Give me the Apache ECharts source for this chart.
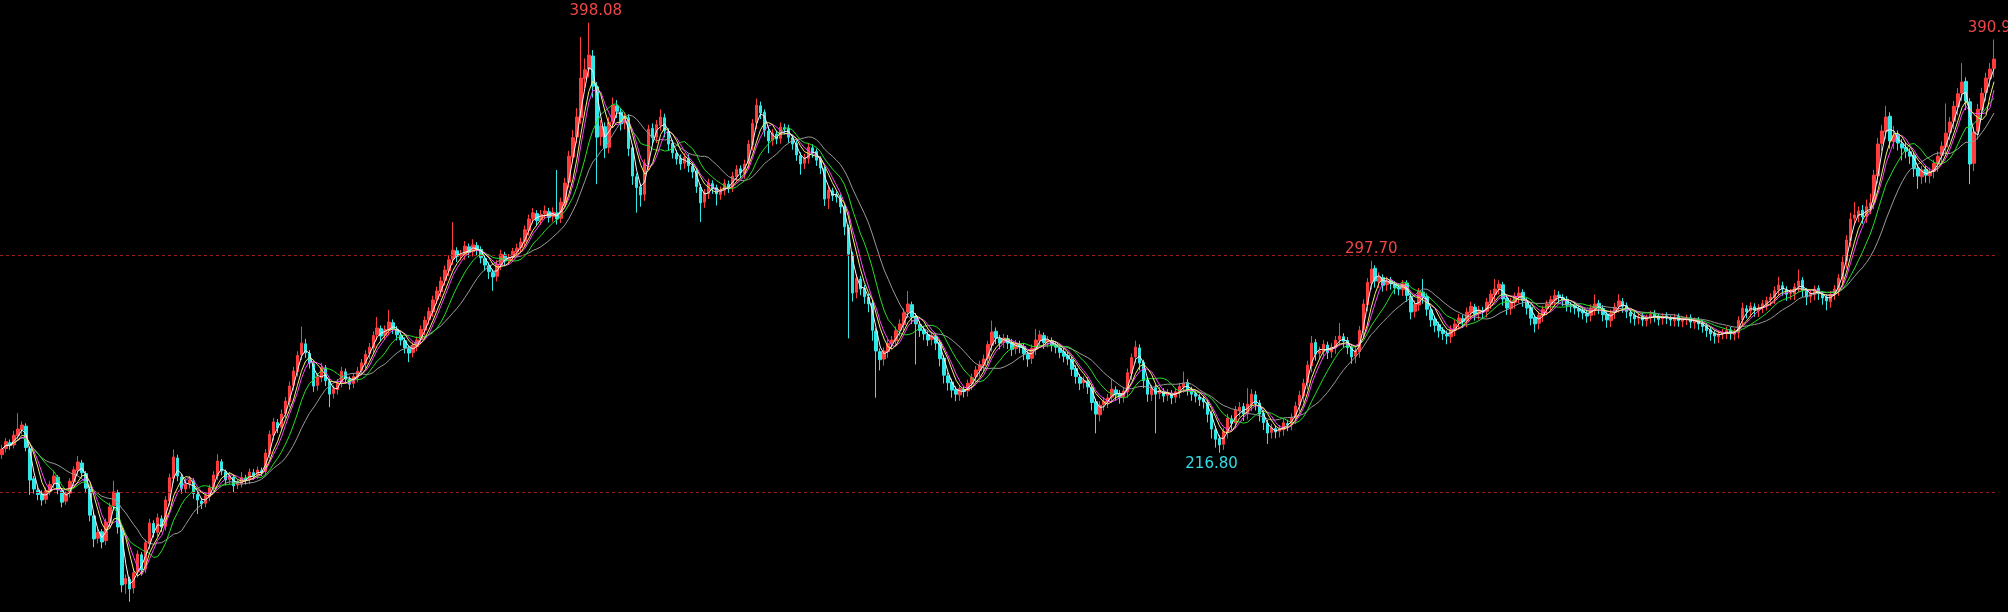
<!DOCTYPE html>
<html><head><meta charset="utf-8">
<script src="https://cdn.jsdelivr.net/npm/echarts/dist/echarts.min.js"></script>
<style>html,body{margin:0;padding:0;background:#000;overflow:hidden}#c{width:2008px;height:612px}</style>
</head><body><div id="c"></div><script>
const opens=[216.0,218.6,221.0,220.1,224.0,226.5,228.0,218.5,205.8,201.0,
199.5,197.2,200.6,203.8,206.5,200.8,196.4,199.8,204.5,209.2,
212.5,208.0,201.5,190.2,180.8,183.5,179.8,187.3,194.5,200.0,
185.0,161.5,163.5,159.8,166.5,173.8,167.8,178.5,187.0,183.3,
189.0,185.8,196.5,206.0,214.6,206.6,201.5,203.8,205.0,199.2,
196.5,195.5,198.3,202.3,207.1,213.0,208.8,205.5,206.5,203.2,
203.9,206.1,205.4,208.4,207.5,209.2,208.9,216.4,224.2,229.5,
227.6,233.4,238.3,245.2,251.0,258.1,262.7,258.6,254.3,245.2,
248.4,252.6,246.8,241.8,243.5,246.4,250.9,247.7,246.0,248.6,
251.5,254.4,258.6,261.0,266.5,269.1,266.3,268.4,271.6,268.8,
266.2,264.0,260.7,259.1,261.6,264.6,268.5,273.0,276.1,281.5,
284.7,289.5,293.5,298.4,301.9,299.9,300.2,303.6,301.6,304.1,
302.5,298.7,295.6,292.8,291.2,296.0,300.2,297.9,299.2,301.4,
303.3,305.9,310.5,315.6,317.6,314.9,317.5,318.4,316.3,317.9,
315.6,322.1,330.8,341.5,349.9,358.0,374.4,378.5,384.0,371.0,
350.1,354.2,345.5,356.4,363.0,360.4,355.7,358.0,345.3,333.1,
328.9,325.7,338.4,353.5,349.8,354.8,358.0,352.1,347.2,342.9,
340.9,338.8,341.0,337.5,335.4,328.7,322.4,326.1,330.2,328.5,
325.6,327.4,330.0,328.9,333.1,336.5,334.5,338.8,346.6,355.9,
363.0,360.3,352.4,348.5,351.1,349.3,353.8,353.5,349.5,347.2,
342.0,338.8,340.9,345.3,343.8,340.4,336.5,324.0,327.2,325.5,
324.3,320.7,311.7,300.2,284.4,290.0,286.1,282.3,279.8,268.1,
259.4,256.3,259.4,263.1,264.0,268.5,270.8,276.1,279.2,274.3,
270.8,268.6,266.6,264.6,265.8,263.3,256.7,249.2,246.6,243.5,
241.2,243.5,242.9,245.8,248.8,251.4,253.6,256.6,262.1,268.0,
264.9,263.3,264.8,263.3,260.7,262.4,261.6,258.2,256.6,260.5,
264.0,266.2,263.5,264.0,262.3,261.0,259.4,257.8,256.0,252.3,
248.6,246.4,247.0,244.2,238.3,232.8,237.1,238.2,240.2,243.3,
241.8,240.5,242.5,250.2,257.2,261.0,254.9,247.5,241.2,244.2,
241.8,242.7,241.0,241.9,240.2,242.2,244.5,246.4,243.2,241.8,
240.3,239.4,238.0,233.3,226.5,222.8,220.4,225.4,231.1,229.5,
234.5,236.3,233.4,237.0,241.2,237.7,233.4,229.2,225.4,227.0,
225.9,226.5,229.1,228.8,231.5,236.8,240.7,246.4,253.5,263.3,
258.7,259.4,262.2,259.3,261.0,264.5,265.7,264.1,261.4,257.5,
259.4,268.7,279.2,288.3,294.5,288.9,290.7,287.7,289.5,287.7,
286.6,285.5,288.3,282.8,276.4,279.1,284.5,282.7,277.0,273.1,
270.8,268.5,266.7,265.7,268.6,271.4,273.3,272.3,275.8,278.2,
275.5,276.7,276.4,280.0,283.4,286.1,287.6,281.9,277.5,280.2,
282.4,284.4,280.7,278.1,273.8,271.4,274.5,277.5,279.2,281.0,
283.3,282.1,281.5,278.7,278.9,277.5,276.8,275.4,274.7,277.3,
279.8,277.6,275.3,272.5,275.9,278.5,280.5,278.8,276.0,274.7,
273.5,274.3,272.5,273.8,275.4,274.1,273.3,274.5,273.3,272.5,
274.2,272.2,273.1,273.7,271.6,272.6,271.4,270.3,268.6,267.2,
265.7,267.1,267.2,268.6,266.7,267.4,272.9,277.5,276.5,278.3,
276.6,278.1,279.3,281.3,282.1,285.4,287.2,285.5,283.9,283.8,
287.0,289.5,285.0,282.7,283.7,286.1,283.6,282.3,280.5,283.8,
285.5,290.1,297.5,306.2,315.6,316.7,319.0,316.5,320.2,322.4,
333.5,347.2,352.1,358.6,347.9,350.9,347.0,345.5,343.6,342.1,
336.8,333.1,336.3,333.5,335.4,338.4,342.1,345.7,351.8,356.5,
362.5,368.4,373.3,364.7,338.8,352.3,361.3,368.6,374.4,378.8];

const closes=[218.4,221.5,219.8,224.2,226.8,228.5,219.0,205.3,201.5,199.2,
196.9,200.8,203.4,207.0,201.2,196.0,199.5,204.8,209.6,212.9,
208.4,201.9,190.5,180.5,183.2,179.2,187.6,194.0,200.3,185.5,
161.1,163.8,159.4,166.2,174.1,167.4,178.9,187.2,183.0,189.4,
185.5,196.9,206.3,215.0,207.0,201.8,203.5,205.3,199.6,196.9,
195.2,198.7,202.0,207.4,213.3,209.1,205.3,206.8,202.9,203.6,
206.4,205.1,208.7,207.2,209.5,208.7,216.7,224.5,229.8,227.3,
233.1,238.6,244.9,251.3,257.8,263.0,258.9,254.6,244.9,248.7,
252.9,247.1,241.5,243.8,246.1,251.2,248.0,245.7,248.9,251.2,
254.7,258.3,261.3,266.2,269.4,266.0,268.7,271.9,269.1,266.5,
264.3,261.0,258.8,261.9,264.3,268.8,272.7,276.4,281.2,285.0,
289.2,293.8,298.1,302.2,299.6,300.5,303.9,301.3,304.4,302.2,
299.0,295.9,293.1,290.9,296.3,300.5,297.6,298.9,301.7,303.0,
305.6,310.8,315.3,317.9,314.6,317.2,318.7,316.0,318.2,315.3,
322.4,330.5,341.8,349.6,358.3,374.7,378.2,384.4,371.3,349.8,
354.5,345.2,356.1,363.3,360.7,355.4,358.3,345.0,333.4,328.6,
325.4,338.7,353.2,349.5,355.1,358.3,352.4,346.9,343.2,340.6,
338.5,341.3,337.8,335.1,329.0,322.1,326.4,330.5,328.2,325.9,
327.1,330.3,328.6,333.4,336.2,334.8,338.5,346.9,355.6,363.3,
360.0,352.7,348.2,351.4,349.0,354.1,353.2,349.8,346.9,342.3,
338.5,341.2,345.6,343.5,340.1,336.8,323.7,327.5,325.2,324.6,
320.4,312.0,300.5,284.1,290.3,285.8,282.6,279.5,268.4,259.7,
256.0,259.7,262.8,264.3,268.2,271.1,275.8,279.5,274.0,271.1,
268.3,266.9,264.3,266.1,263.0,256.4,249.5,246.3,243.2,241.5,
243.8,242.6,246.1,248.5,251.7,253.9,256.3,262.4,267.7,265.2,
263.0,265.1,263.0,260.4,262.7,261.3,258.5,256.3,260.8,264.3,
266.5,263.2,264.3,262.0,261.3,259.1,257.5,256.3,252.0,248.9,
246.1,247.3,244.5,238.0,233.1,236.8,238.5,239.9,243.6,241.5,
240.2,242.8,250.5,256.9,261.3,254.6,247.2,241.5,243.9,241.5,
243.0,240.7,242.2,239.9,242.5,244.8,246.1,243.5,241.5,240.6,
239.1,238.2,233.0,226.8,222.5,220.1,225.7,231.4,229.2,234.8,
236.0,233.1,237.3,241.5,237.4,233.1,229.5,225.1,227.3,225.6,
226.8,229.4,228.5,231.8,236.5,241.0,246.1,253.8,263.0,258.4,
259.7,262.5,259.0,261.3,264.2,266.0,263.8,261.1,257.2,259.7,
268.4,279.5,288.6,294.2,289.2,291.0,287.4,289.2,288.0,286.3,
285.8,288.0,283.1,276.1,279.4,284.8,282.4,277.3,272.8,270.5,
268.2,267.0,266.0,268.9,271.1,273.6,272.0,276.1,278.5,275.2,
277.0,276.1,280.3,283.7,285.8,287.9,281.6,277.8,280.5,282.7,
284.1,281.0,277.8,273.5,271.1,274.8,277.2,279.5,281.3,283.0,
282.4,281.2,279.0,278.6,277.8,276.5,275.7,274.4,277.6,279.5,
277.9,275.0,272.8,275.6,278.2,280.8,278.5,276.3,274.4,273.2,
274.0,272.8,273.5,275.1,274.4,273.0,274.2,273.6,272.8,273.9,
272.5,272.8,273.4,271.9,272.3,271.1,270.0,268.3,266.9,266.0,
266.8,267.5,268.3,267.0,267.7,272.6,277.8,276.2,278.6,276.9,
277.8,279.6,281.0,282.4,285.1,287.5,285.8,283.6,284.1,286.7,
289.2,285.3,282.4,284.0,285.8,283.9,282.0,280.8,283.5,285.8,
290.4,297.2,306.5,315.3,317.0,318.7,316.2,320.5,322.1,333.8,
346.9,352.4,358.3,348.2,350.6,347.3,345.2,343.9,341.8,336.5,
333.4,336.0,333.8,335.1,338.7,341.8,346.0,351.5,356.2,362.8,
368.1,373.0,365.0,338.5,352.0,361.6,368.3,374.7,378.5,382.7];

const highs=[220.1,223.0,222.4,226.0,233.5,230.0,229.2,219.4,207.0,202.3,
201.0,202.2,205.0,209.3,207.4,201.9,200.6,206.1,211.0,215.5,
213.8,209.1,202.8,191.4,185.0,184.6,189.1,195.8,205.0,201.2,
186.0,165.5,164.6,167.8,175.6,174.9,180.3,189.0,188.3,191.2,
190.4,198.5,208.0,218.2,216.0,208.1,206.2,207.0,206.1,200.5,
197.8,200.1,203.4,209.0,216.2,214.1,209.7,208.5,207.6,205.5,
208.7,207.5,210.2,209.9,211.0,210.6,218.4,226.2,231.5,231.0,
235.0,240.3,246.8,253.0,259.6,270.0,264.8,260.1,255.6,250.4,
254.7,253.8,248.0,245.2,247.9,253.0,252.3,249.0,250.4,252.9,
256.3,260.0,263.1,268.0,274.0,270.4,270.5,277.0,273.0,270.2,
267.6,265.4,262.0,263.3,265.8,270.4,274.3,278.1,283.0,286.8,
291.0,295.7,300.0,314.0,303.4,302.3,306.0,305.0,306.8,305.6,
303.8,300.0,297.0,294.1,298.0,302.4,301.5,300.6,303.1,304.9,
307.4,312.6,317.2,320.0,319.0,319.1,321.0,320.0,320.2,336.0,
324.3,332.6,344.0,352.8,362.0,392.0,383.0,398.08,386.5,373.0,
357.0,356.0,358.2,366.5,365.4,362.0,360.4,359.5,346.6,334.5,
330.2,340.5,355.0,355.6,357.0,361.5,359.7,353.5,348.6,344.4,
342.5,343.0,342.6,339.0,336.7,330.0,328.0,332.3,331.6,329.8,
329.0,332.0,331.5,335.1,338.0,337.9,340.3,348.6,357.4,366.0,
364.8,361.5,354.0,353.2,352.6,356.0,355.5,355.0,350.8,348.5,
343.4,342.8,347.3,346.8,345.0,341.7,337.5,329.2,328.5,327.0,
325.6,321.8,312.9,301.5,292.0,291.4,287.5,283.8,281.0,269.4,
260.8,261.2,264.5,266.0,270.0,273.0,277.6,285.0,280.5,275.7,
272.3,270.2,268.0,267.6,267.2,264.5,258.0,250.6,248.0,244.8,
245.3,244.9,247.6,250.1,253.4,255.6,258.2,264.0,272.5,269.6,
266.5,266.9,266.4,264.8,264.3,264.0,263.0,259.8,262.4,269.0,
268.4,267.5,266.0,265.4,263.8,262.5,260.9,259.2,257.4,253.7,
250.0,249.0,248.6,245.5,239.6,238.5,240.2,241.6,248.0,244.8,
243.2,244.3,252.3,258.6,264.0,262.5,256.0,248.8,245.4,245.6,
244.6,244.0,243.7,243.2,244.0,246.3,251.0,247.8,244.6,243.1,
241.7,240.8,239.3,234.6,228.0,224.2,227.3,233.2,232.6,236.5,
238.2,237.8,244.0,243.6,242.8,239.0,234.8,230.6,229.0,228.4,
228.5,231.0,230.7,233.4,238.3,242.9,248.0,255.6,266.0,264.7,
261.5,264.3,263.6,263.0,266.0,271.5,267.2,265.5,262.7,261.3,
270.2,281.5,290.4,297.70,295.8,292.8,292.0,291.0,290.9,289.2,
288.0,289.6,289.5,284.0,281.0,286.3,290.0,284.0,278.3,274.4,
272.0,269.8,268.3,270.5,272.8,275.3,274.9,278.0,280.4,279.6,
278.7,278.3,282.0,285.4,290.0,289.5,288.8,283.2,282.1,284.3,
286.8,285.7,282.0,279.3,275.0,276.3,278.8,281.0,283.0,285.5,
284.9,283.6,282.8,280.3,280.4,279.1,278.2,277.0,279.3,283.5,
281.2,279.0,276.7,277.1,279.9,283.6,282.0,280.1,277.5,276.2,
275.7,275.8,275.0,276.6,276.9,275.5,275.6,276.0,274.7,275.3,
275.5,274.3,275.0,275.1,273.8,274.0,272.8,271.6,269.9,268.5,
268.3,269.0,270.0,269.8,269.2,274.3,280.0,279.0,280.2,279.8,
279.4,281.2,282.6,284.0,286.9,291.0,288.9,287.0,285.8,288.3,
294.0,290.8,286.3,285.6,287.3,287.4,285.0,283.6,285.0,287.5,
292.1,299.5,308.5,318.0,322.5,320.6,321.2,323.5,326.0,336.0,
349.5,355.0,363.0,360.3,354.5,352.6,349.0,347.3,345.2,343.5,
338.2,337.6,337.9,337.0,340.3,343.8,348.0,364.0,358.3,365.0,
370.5,381.0,375.0,366.2,354.2,363.8,370.6,377.0,381.0,390.96];

const lows=[214.2,217.0,218.1,218.6,222.3,224.6,217.4,199.0,199.6,196.8,
194.5,195.3,198.9,201.9,199.3,193.8,194.9,198.0,202.6,207.2,
206.3,199.8,187.9,177.0,178.6,176.5,177.9,185.2,192.3,182.7,
158.0,157.3,154.0,157.5,164.2,165.0,166.1,176.2,181.1,181.5,
183.4,184.0,194.6,204.1,204.8,199.5,199.9,201.7,197.4,191.0,
193.1,193.8,196.4,200.5,205.2,207.3,203.1,203.6,200.2,201.5,
202.2,203.4,203.6,205.5,205.8,206.9,207.1,214.5,222.0,225.1,
225.8,231.4,236.0,243.1,248.9,255.9,256.8,252.3,242.5,243.0,
246.5,244.9,236.0,239.7,241.3,244.3,245.9,243.4,244.0,246.5,
249.4,252.3,256.4,258.9,264.2,263.8,264.4,266.2,266.9,264.1,
262.0,258.6,255.0,257.0,259.6,262.5,266.3,270.8,274.0,279.4,
282.5,287.3,291.2,296.0,297.2,297.9,298.1,299.0,299.5,300.0,
296.6,293.5,290.0,285.0,289.0,293.9,295.4,295.9,297.2,299.4,
301.2,303.8,308.3,313.5,312.3,312.8,315.4,313.8,314.2,313.0,
313.6,320.0,328.5,339.0,347.2,355.4,370.5,375.0,366.5,330.0,
346.2,341.0,343.0,353.8,357.9,352.6,353.1,341.8,329.7,318.0,
320.5,323.0,335.8,346.8,347.3,352.5,349.7,344.1,340.8,338.2,
336.0,336.5,335.0,332.5,326.3,314.0,320.0,323.8,325.9,321.0,
323.4,325.2,326.3,326.7,330.8,332.4,332.3,336.6,344.2,353.3,
357.4,350.0,343.0,346.2,346.8,347.1,350.9,347.4,344.5,339.8,
334.0,336.4,338.6,341.1,337.7,334.2,320.8,319.5,322.9,322.2,
317.6,308.5,265.0,280.5,281.9,283.2,279.6,276.0,264.0,240.0,
251.5,253.5,256.8,260.3,261.6,265.9,268.2,273.6,271.0,254.0,
265.6,264.2,261.8,262.0,260.1,253.2,246.0,243.0,240.0,238.5,
238.7,240.1,240.5,243.2,246.3,248.9,251.0,254.1,259.4,262.6,
260.4,260.9,260.5,257.6,258.3,258.8,255.8,253.0,254.2,258.0,
261.6,260.6,261.2,259.5,258.7,256.6,254.9,253.7,249.2,245.9,
243.2,243.9,241.6,234.6,225.0,230.0,234.5,235.6,237.7,238.8,
237.5,238.0,240.0,247.5,254.6,251.5,244.0,238.3,238.6,225.0,
239.4,238.1,238.6,237.3,237.8,239.8,242.1,240.9,238.7,238.0,
236.5,235.4,229.6,222.8,219.0,216.80,218.0,222.8,226.4,227.0,
231.9,230.2,230.8,234.3,234.6,230.0,226.4,220.5,222.8,222.9,
223.3,224.0,225.9,226.3,229.0,234.2,238.0,243.6,250.7,255.6,
256.1,256.9,256.3,256.8,258.5,262.0,261.1,258.4,254.3,254.5,
256.8,265.5,276.4,285.6,286.4,286.3,284.7,285.1,285.5,283.6,
283.1,282.9,280.4,273.0,273.8,276.6,279.6,274.5,269.9,267.6,
265.3,264.3,262.5,263.0,265.9,268.8,269.4,269.7,273.2,272.5,
272.9,273.6,273.8,277.4,280.8,283.5,278.8,274.9,274.9,277.6,
279.8,278.3,275.0,270.5,267.5,268.8,271.9,274.9,276.6,278.4,
279.8,278.6,276.3,275.9,275.1,273.8,273.0,271.6,272.1,274.7,
275.2,272.2,269.5,269.8,273.2,275.9,275.8,273.5,271.4,270.4,
270.9,270.1,270.0,271.2,271.8,270.4,270.8,271.0,270.2,270.0,
269.9,269.7,270.6,269.3,269.0,268.6,267.4,265.6,264.0,262.8,
263.0,264.6,264.7,264.4,264.1,264.9,270.2,273.4,273.9,274.1,
274.0,275.6,276.8,278.7,279.5,282.8,283.0,280.8,281.3,281.2,
284.4,282.4,279.0,280.0,281.1,281.2,279.2,276.8,277.9,281.2,
282.9,287.4,294.6,303.4,312.6,313.9,313.3,313.7,317.3,319.5,
330.3,344.0,349.0,345.0,344.8,344.2,340.0,340.9,338.5,333.0,
328.0,330.0,330.6,330.3,332.4,335.2,338.9,342.5,348.5,353.2,
359.0,365.0,361.2,330.0,335.5,348.8,357.6,365.0,370.8,375.0];

// moving-average periods (in candles) and level guides
const maPeriods=[3,5,6,10,16];
const guideLevels=[200,300];
// annotated extremes: candle index and which extreme
const markerIdx=[147,343,305,499];
const markerKind=['high','high','low','high'];

// ---- styles ----
const maColors=['#f4f4f4','#f2f26a','#ff44ff','#26dd26','#9a9a9a'];
const upColor='#ff3c3c', downColor='#30e8e8';
const markerStyle={high:{color:'#f04646',position:'top'},low:{color:'#33dde6',position:'bottom'}};
const markerOffsets=[[7,0],[0,0],[-8,0],[0,0]];

const cats=closes.map((_,i)=>i);
const candles=closes.map((c,i)=>{
  const o=opens[i];
  return [o,c,Math.min(lows[i],o,c),Math.max(highs[i],o,c)];
});
function ma(p){
  return closes.map((_,i)=>{
    const s=Math.max(0,i-p+1);let sum=0;
    for(let k=s;k<=i;k++)sum+=closes[k];
    return +(sum/(i-s+1)).toFixed(2);
  });
}
const mpData=markerIdx.map((idx,j)=>{
  const kind=markerKind[j];
  const v=kind==='high'?highs[idx]:lows[idx];
  const st=markerStyle[kind];
  return {coord:[idx,v],value:v,symbol:'circle',symbolSize:0,
    label:{show:true,formatter:v.toFixed(2),position:st.position,distance:4,
      color:st.color,fontSize:15,fontFamily:'DejaVu Sans',offset:markerOffsets[j]}};
});

const chart=echarts.init(document.getElementById('c'),null,{renderer:'canvas'});
chart.setOption({
  backgroundColor:'#000000',
  animation:false,
  grid:{left:0,right:12,top:0,bottom:0},
  xAxis:{type:'category',data:cats,boundaryGap:true,show:false},
  yAxis:{type:'value',min:149.7,max:407.6,show:false,splitLine:{show:false}},
  series:[{
    type:'candlestick',
    data:candles,
    barWidth:3,
    itemStyle:{color:upColor,color0:downColor,borderColor:upColor,borderColor0:downColor,borderWidth:1},
    markLine:{silent:true,symbol:['none','none'],label:{show:false},
      lineStyle:{color:'#9c1c1c',type:[3,3],width:1},
      data:guideLevels.map(v=>({yAxis:v}))},
    markPoint:{silent:true,data:mpData},
    z:2
  }].concat(maPeriods.map((p,j)=>({
    type:'line',data:ma(p),showSymbol:false,symbol:'none',
    lineStyle:{color:maColors[j],width:1},z:3+(maPeriods.length-j)
  })))
});
</script></body></html>
